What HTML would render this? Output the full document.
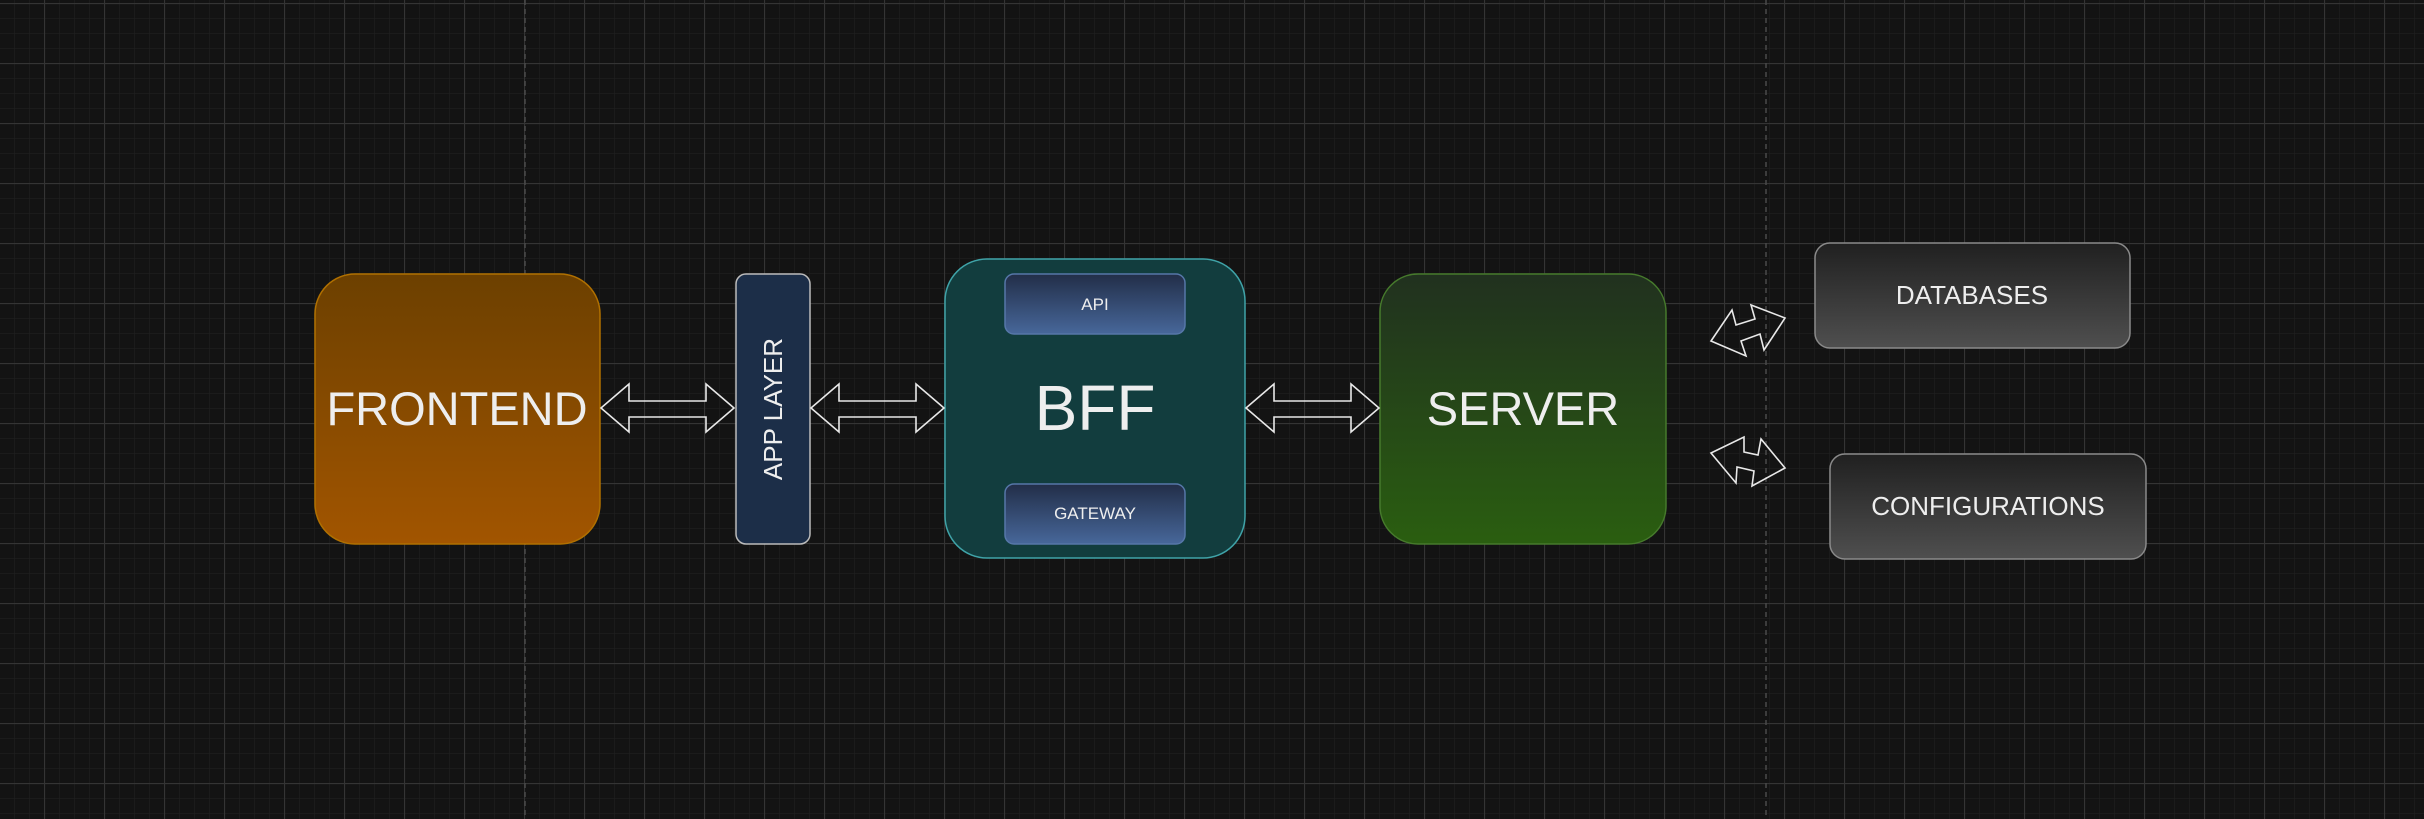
<!DOCTYPE html>
<html><head><meta charset="utf-8"><style>
html,body{margin:0;padding:0;background:#131313;}
svg{display:block;}
text{font-family:"Liberation Sans",Arial,sans-serif;fill:#eeeeee;}
</style></head><body>
<svg width="2424" height="819" viewBox="0 0 2424 819" xmlns="http://www.w3.org/2000/svg">
<defs>
<pattern id="minor" x="44" y="3" width="15" height="15" patternUnits="userSpaceOnUse">
<path d="M0 0H15M0 0V15" stroke="#1e1e1e" stroke-width="1.5" fill="none"/>
</pattern>
<pattern id="major" x="44" y="3" width="60" height="60" patternUnits="userSpaceOnUse">
<path d="M0 0.5H60M0.5 0V60" stroke="#343434" stroke-width="1.2" fill="none"/>
</pattern>
<linearGradient id="gFront" x1="0" y1="0" x2="0" y2="1"><stop offset="0" stop-color="#6c4000"/><stop offset="1" stop-color="#a25500"/></linearGradient>
<linearGradient id="gServer" x1="0" y1="0" x2="0" y2="1"><stop offset="0" stop-color="#21311f"/><stop offset="1" stop-color="#2a5e10"/></linearGradient>
<linearGradient id="gBlue" x1="0" y1="0" x2="0" y2="1"><stop offset="0" stop-color="#222e48"/><stop offset="1" stop-color="#47679a"/></linearGradient>
<linearGradient id="gGray" x1="0" y1="0" x2="0" y2="1"><stop offset="0" stop-color="#202020"/><stop offset="1" stop-color="#4f4f4f"/></linearGradient>
</defs>
<rect width="2424" height="819" fill="#131313"/>
<rect width="2424" height="819" fill="url(#minor)"/>
<rect width="2424" height="819" fill="url(#major)"/>
<line x1="525" y1="0" x2="525" y2="819" stroke="#4a4a4a" stroke-width="1.5" stroke-dasharray="5,4"/>
<line x1="1766" y1="0" x2="1766" y2="819" stroke="#4a4a4a" stroke-width="1.5" stroke-dasharray="5,4"/>

<rect x="315" y="274" width="285" height="270" rx="40" fill="url(#gFront)" stroke="#b07000" stroke-width="1.5"/>
<text x="457" y="425" font-size="47" text-anchor="middle">FRONTEND</text>

<rect x="736" y="274" width="74" height="270" rx="10" fill="#1c2e48" stroke="#bbbbbb" stroke-width="1.5"/>
<text x="0" y="0" font-size="26" text-anchor="middle" transform="translate(782,409) rotate(-90)">APP LAYER</text>

<rect x="945" y="259" width="300" height="299" rx="42" fill="#123d3e" stroke="#3fa3a8" stroke-width="1.5"/>
<text x="1095" y="430" font-size="64" text-anchor="middle">BFF</text>
<rect x="1005" y="274" width="180" height="60" rx="9" fill="url(#gBlue)" stroke="#5677a8" stroke-width="1.5"/>
<text x="1095" y="310" font-size="17" text-anchor="middle">API</text>
<rect x="1005" y="484" width="180" height="60" rx="9" fill="url(#gBlue)" stroke="#5677a8" stroke-width="1.5"/>
<text x="1095" y="519" font-size="17" text-anchor="middle">GATEWAY</text>

<rect x="1380" y="274" width="286" height="270" rx="38" fill="url(#gServer)" stroke="#467a2c" stroke-width="1.5"/>
<text x="1523" y="425" font-size="47" text-anchor="middle">SERVER</text>

<rect x="1815" y="243" width="315" height="105" rx="15" fill="url(#gGray)" stroke="#8a8a8a" stroke-width="1.5"/>
<text x="1972" y="304" font-size="26" text-anchor="middle">DATABASES</text>
<rect x="1830" y="454" width="316" height="105" rx="15" fill="url(#gGray)" stroke="#8a8a8a" stroke-width="1.5"/>
<text x="1988" y="515" font-size="26" text-anchor="middle">CONFIGURATIONS</text>

<g fill="none" stroke="#e8e8e8" stroke-width="1.6" stroke-linejoin="miter">
<polygon points="601,408 629,384 629,401 706,401 706,384 734,408 706,432 706,417 629,417 629,432"/>
<polygon points="811,408 839,384 839,401 916,401 916,384 944,408 916,432 916,417 839,417 839,432"/>
<polygon points="1246,408 1274,384 1274,401 1351,401 1351,384 1379,408 1351,432 1351,417 1274,417 1274,432"/>
<polygon points="1711,341 1732,310 1736,325 1755,319 1751,305 1785,318 1764,350 1760,334 1741,341 1746,356"/>
<polygon points="1711,453 1744,437 1744,452 1758,455 1761,439 1785,468 1752,486 1754,471 1737,467 1736,483"/>
</g>
</svg>
</body></html>
